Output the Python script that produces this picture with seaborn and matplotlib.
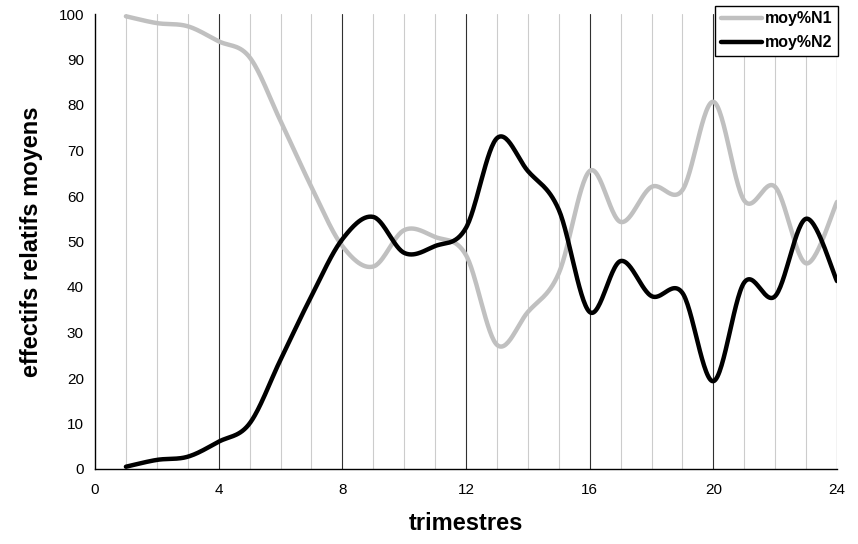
import numpy as np
import pandas as pd
import matplotlib
matplotlib.use("Agg")
import matplotlib.pyplot as plt
import seaborn as sns

# ---- data ----
trimestres = list(range(1, 25))
moy_N1 = [99.5, 98.0, 97.3, 94.0, 90.5, 76.5, 62.0, 49.0, 44.5, 52.5, 51.0, 47.0,
          27.3, 34.5, 43.0, 65.5, 54.3, 62.0, 61.3, 80.7, 59.0, 62.0, 45.2, 58.7]
moy_N2 = [0.5, 2.0, 2.7, 6.0, 10.0, 24.0, 38.0, 50.5, 55.4, 47.5, 49.0, 53.0,
          72.7, 65.5, 57.0, 34.5, 45.7, 38.0, 38.7, 19.3, 41.0, 38.0, 55.0, 41.3]
series_names = ["moy%N1", "moy%N2"]
series_colors = ["#c0c0c0", "#000000"]
x_ticks = [0, 4, 8, 12, 16, 20, 24]
y_ticks = list(range(0, 101, 10))
x_label = "trimestres"
y_label = "effectifs relatifs moyens"


def smooth(x, y, n=30):
    """Excel-style smoothed line (Catmull-Rom Bezier) through the data points."""
    P = np.column_stack([x, y]).astype(float)
    P_ext = np.vstack([P[0], P, P[-1]])
    out = []
    t = np.linspace(0, 1, n, endpoint=False)
    for i in range(len(P) - 1):
        p0, p1, p2, p3 = P_ext[i], P_ext[i + 1], P_ext[i + 2], P_ext[i + 3]
        b1 = p1 + (p2 - p0) / 6.0
        b2 = p2 - (p3 - p1) / 6.0
        seg = ((1 - t) ** 3)[:, None] * p1 + (3 * (1 - t) ** 2 * t)[:, None] * b1 \
            + (3 * (1 - t) * t ** 2)[:, None] * b2 + (t ** 3)[:, None] * p2
        out.append(seg)
    out.append(P[-1][None, :])
    S = np.vstack(out)
    return S[:, 0], S[:, 1]


frames = []
for name, vals in zip(series_names, [moy_N1, moy_N2]):
    sx, sy = smooth(trimestres, vals)
    frames.append(pd.DataFrame({"x": sx, "y": sy, "serie": name}))
df = pd.concat(frames, ignore_index=True)

sns.set_style("white")
plt.rcParams["font.family"] = ["Liberation Sans", "DejaVu Sans"]
plt.rcParams["text.color"] = "black"
plt.rcParams["axes.labelcolor"] = "black"

fig = plt.figure(figsize=(8.58, 5.44), dpi=100)
ax = fig.add_axes([95 / 858, 1 - 469 / 544, (837 - 95) / 858, (469 - 14) / 544])

# vertical grid lines: minor light gray at every trimester, major dark at each 4
for xv in range(1, 25):
    if xv % 4 == 0:
        ax.axvline(xv, color="#303030", lw=0.8, zorder=1)
    else:
        ax.axvline(xv, color="#cccccc", lw=0.8, zorder=1)

sns.lineplot(data=df, x="x", y="y", hue="serie", palette=series_colors,
             hue_order=series_names, sort=False, estimator=None, units="serie",
             lw=3.2, ax=ax, zorder=3, legend=True)

ax.set_xlim(0, 24)
ax.set_ylim(0, 100)
ax.set_xticks(x_ticks)
ax.set_yticks(y_ticks)
ax.tick_params(axis="both", direction="inout", length=8, width=0.9, labelsize=11,
               colors="black", pad=4)
ax.tick_params(axis="x", pad=6)
for s in ["top", "right"]:
    ax.spines[s].set_visible(False)
for s in ["left", "bottom"]:
    ax.spines[s].set_color("black")
    ax.spines[s].set_linewidth(1.0)

ax.set_xlabel(x_label, fontsize=17, fontweight="bold", labelpad=11, color="black")
ax.set_ylabel(y_label, fontsize=17, fontweight="bold", labelpad=11, color="black")

handles, labels = ax.get_legend_handles_labels()
for h in handles:
    h.set_linewidth(3.2)
leg = ax.legend(handles, labels, loc="upper right", bbox_to_anchor=(1.001, 1.018),
                frameon=True, fancybox=False, framealpha=1, edgecolor="black",
                prop={"weight": "bold", "size": 11.5}, handlelength=2.6,
                handletextpad=0.15, borderpad=0.35, labelspacing=0.55, borderaxespad=0)
leg.get_frame().set_linewidth(1.0)
leg.set_zorder(5)

fig.savefig("out.png", dpi=100)
